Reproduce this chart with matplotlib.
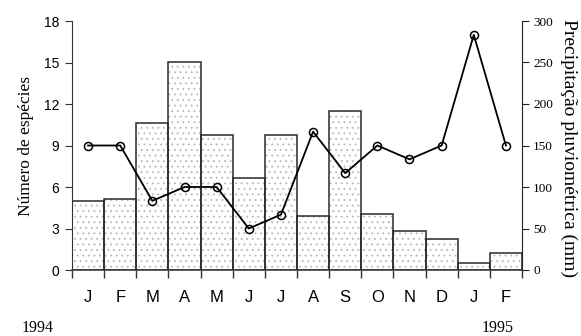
import matplotlib
matplotlib.use("Agg")
import matplotlib.pyplot as plt
import numpy as np

months = ["J", "F", "M", "A", "M", "J", "J", "A", "S", "O", "N", "D", "J", "F"]
precip_mm = [83, 86, 177, 251, 163, 111, 163, 65, 191, 67, 47, 37, 9, 21]
species = [9, 9, 5, 6, 6, 3, 4, 10, 7, 9, 8, 9, 17, 9]
left_ticks = [0, 3, 6, 9, 12, 15, 18]
right_ticks = [0, 50, 100, 150, 200, 250, 300]

plt.rcParams['hatch.linewidth'] = 0.7

W, H = 581, 336
fig = plt.figure(figsize=(W / 100, H / 100), dpi=100)
x0, x1, yb, yt = 72, 522, 270, 21
ax = fig.add_axes([x0 / W, (H - yb) / H, (x1 - x0) / W, (yb - yt) / H])

x = np.arange(len(months))
# dotted fill (light grey dots)
ax.bar(x, precip_mm, width=1.0, color='white', edgecolor='#bdbdbd',
       linewidth=0, hatch='...', zorder=2)
# dark outlines
ax.bar(x, precip_mm, width=1.0, fill=False, edgecolor='#2a2a2a',
       linewidth=1.1, zorder=2.5)
ax.set_ylim(0, 300)
ax.set_xlim(-0.5, len(months) - 0.5)

ax2 = ax.twinx()
ax2.plot(x, species, color='black', linewidth=1.3, marker='o', markersize=5.8,
         markerfacecolor='none', markeredgecolor='black', markeredgewidth=1.1,
         zorder=3)
ax2.set_ylim(0, 18)

for a in (ax, ax2):
    a.spines['top'].set_visible(False)
    a.patch.set_visible(False)

ax.spines['left'].set_visible(False)
ax2.spines['left'].set_visible(True)
ax2.spines['right'].set_visible(False)
ax2.spines['bottom'].set_visible(False)
ax.spines['right'].set_color('#222222')
ax.spines['bottom'].set_color('#333333')
ax2.spines['left'].set_color('#333333')
ax.spines['bottom'].set_linewidth(1.1)

# right axis (precipitation)
ax.yaxis.tick_right()
ax.set_yticks(right_ticks)
ax.set_yticklabels([str(v) for v in right_ticks], family='Liberation Serif',
                   fontsize=9.5)
ax.tick_params(axis='y', direction='out', length=5, pad=3, color='#222222')

# left axis (species)
ax2.yaxis.tick_left()
ax2.yaxis.set_label_position('left')
ax2.set_yticks(left_ticks)
ax2.set_yticklabels([str(v) for v in left_ticks], family='Liberation Sans',
                    fontsize=10)
ax2.tick_params(axis='y', direction='out', length=5, pad=4, color='#333333')

# x ticks at bar boundaries, labels at centres
ax.set_xticks(np.arange(-0.5, len(months)), minor=False)
ax.set_xticklabels([])
ax.tick_params(axis='x', direction='out', length=6, width=1.0, color='#333333')
for i, m in enumerate(months):
    ax.text(i, -0.11, m, transform=ax.get_xaxis_transform(), ha='center',
            va='center', fontsize=12, family='Liberation Sans')

ax2.set_ylabel('Número de espécies', family='Liberation Serif', fontsize=12.5,
               labelpad=7)
fig.text(569 / W, 1 - 148 / H, 'Precipitação pluviométrica (mm)',
         family='Liberation Serif', fontsize=14, rotation=270,
         ha='center', va='center')

fig.text(38 / W, 1 - 328 / H, '1994', ha='center', va='center',
         family='Liberation Serif', fontsize=11.5)
fig.text(498 / W, 1 - 328 / H, '1995', ha='center', va='center',
         family='Liberation Serif', fontsize=11.5)

fig.savefig('out.png', dpi=100)
